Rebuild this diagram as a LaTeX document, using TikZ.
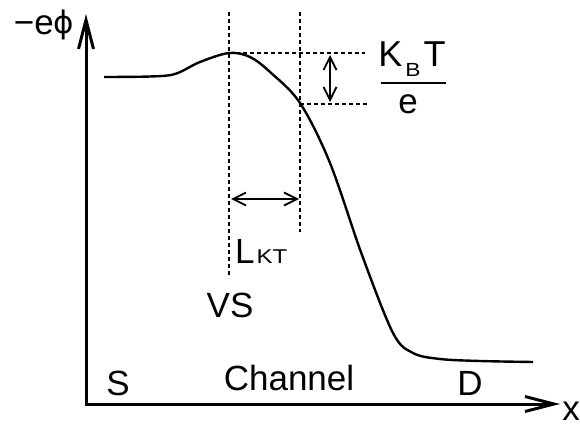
\documentclass[tikz,border=0pt]{standalone}
\usepackage{fontspec}
\setmainfont{Liberation Sans}
\newfontfamily\phifont{DejaVu Sans}
\usetikzlibrary{arrows.meta}
\newcommand{\sub}[2]{\scalebox{1.2}[1]{\fontsize{#1}{#1}\selectfont #2}}

\begin{document}
\begin{tikzpicture}[x=1pt, y=-1pt,
    lbl/.style={inner sep=0pt, anchor=base, font=\fontsize{35}{40}\selectfont},
    guide/.style={line width=2.2pt, dash pattern=on 4pt off 3pt},
    axis/.style={line width=3pt, {Straight Barb[length=29pt,width=15pt]}-{Straight Barb[length=29pt,width=15pt]}},
    span/.style={line width=1.8pt, {Straight Barb[length=13pt,width=13pt]}-{Straight Barb[length=13pt,width=13pt]}}]
    \useasboundingbox (0,0) rectangle (580,427);

    % axes
    \coordinate (o) at (86,404);
    \coordinate (ytip) at (86,14);
    \coordinate (xtip) at (560,404);
    \draw[axis] (ytip) -- (o) -- (xtip);
    \node[lbl] (ephi) at (44,35) {−e\raisebox{1pt}{\phifont\fontsize{31}{32}\selectfont ϕ}};
    \node[lbl] (xlab) at (571,420) {x};

    % potential
    \draw[line width=2.4pt] plot[smooth, tension=0.55] coordinates {(104,77) (150,76.5) (175,74) (200,62) (229,53) (250,57) (270,72) (300,103) (330,163) (362,255) (393,333) (413,353) (440,359) (480,361) (533,362)};

    % guides
    \coordinate (peak) at (229,53);
    \coordinate (kt) at (300,104);
    \draw[guide] (229,12) -- (229,278);
    \draw[guide] (300,12) -- (300,232);
    \draw[guide] (peak) -- (365,53);
    \draw[guide] (kt) -- (367,104);
    \draw[span] (330,55) -- (330,102);
    \draw[span] (231,199) -- (299,199);

    % labels
    \node[lbl, font=\fontsize{36}{40}\selectfont] (kbt) at (412,67) {K\kern3pt\raisebox{-10pt}{\sub{19}{B}}\kern3pt T};
    \draw[line width=2.4pt] (381,83) -- (446,83);
    \node[lbl] (efrac) at (408,114) {e};
    \node[lbl, anchor=base west] (lkt) at (235,264) {L\kern2pt\sub{20}{KT}};
    \node[lbl] (vs) at (230,317) {VS};
    \node[lbl] (src) at (118,395) {S};
    \node[lbl] (chan) at (289,390) {Channel};
    \node[lbl] (drn) at (470,395) {D};
\end{tikzpicture}
\end{document}
